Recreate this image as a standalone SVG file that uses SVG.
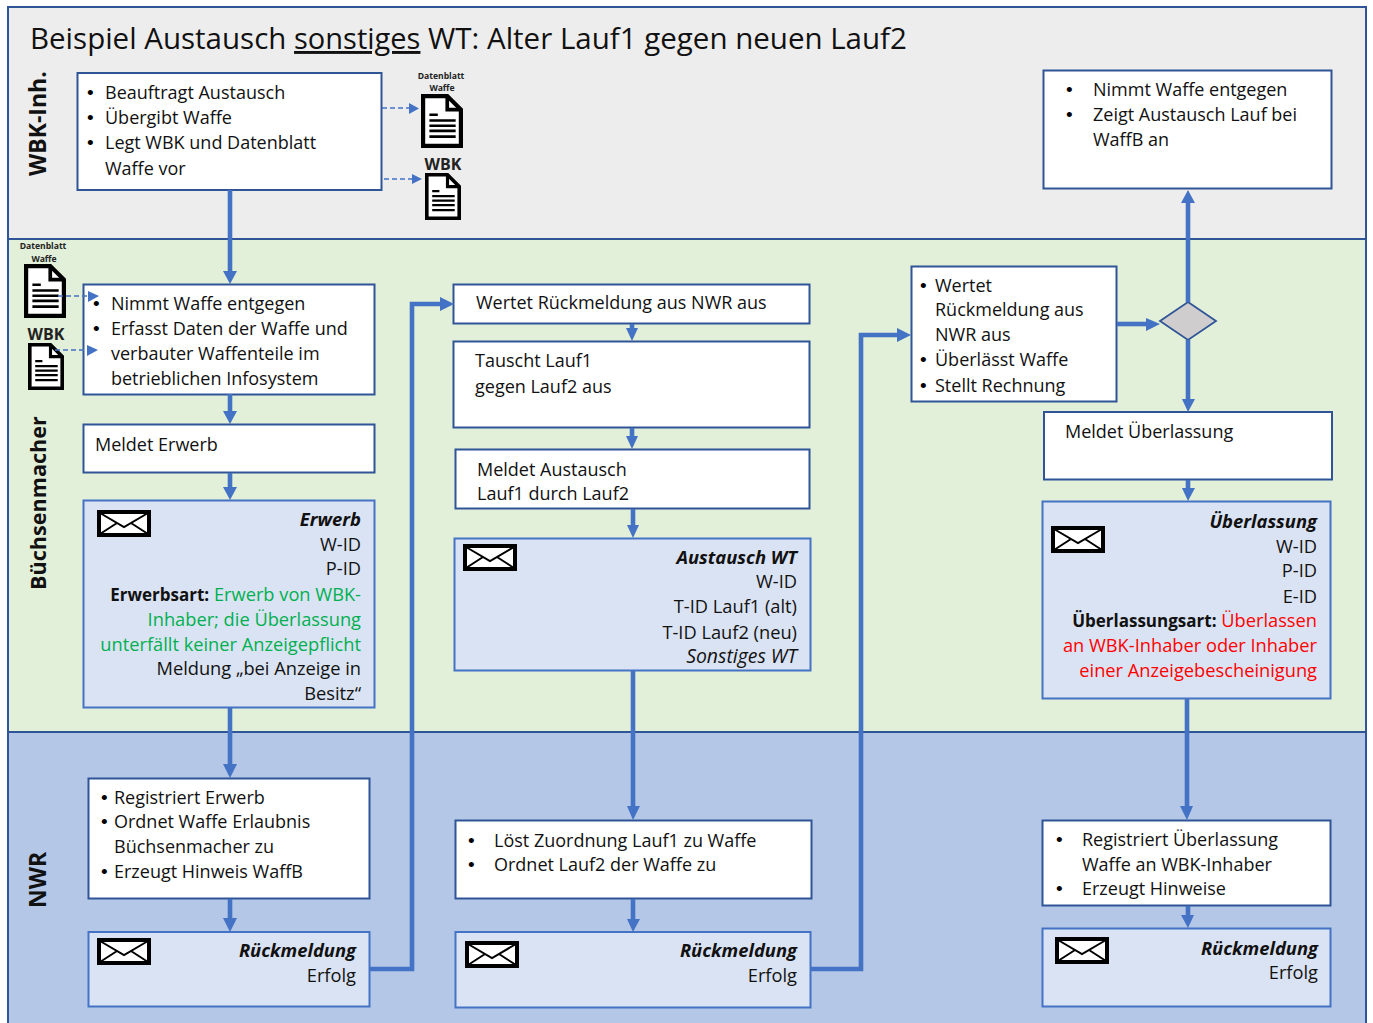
<svg xmlns="http://www.w3.org/2000/svg" xmlns:xlink="http://www.w3.org/1999/xlink" width="1373" height="1023" viewBox="0 0 1373 1023">
<style>
text{font-family:"Open Sans","Noto Sans","Liberation Sans",sans-serif;font-size:18px;fill:#111}
.lane{stroke:#2f5597;stroke-width:2}
.box{fill:#fff;stroke:#2f5597;stroke-width:2}
.msg{fill:#dae3f3;stroke:#4472c4;stroke-width:2}
.r{text-anchor:end;font-size:18.250px}
.b{font-weight:700;font-size:17px}
.i{font-style:italic;font-size:19.400px}
.bi{font-weight:700;font-style:italic;font-size:18.400px}
.g{fill:#00b050}
.red{fill:#ff0000}
.bu{font-family:"Liberation Sans",sans-serif;font-size:19px;fill:#000}
.lab{font-size:22px;font-weight:700;fill:#111}
.small{font-size:8.600px;font-weight:700;text-anchor:middle;fill:#222}
.wbk{font-size:16px;font-weight:700;text-anchor:middle;fill:#222}
.c{fill:none;stroke:#4472c4;stroke-width:4.600}
.d{fill:none;stroke:#4472c4;stroke-width:1.600;stroke-dasharray:5 3}
.ah{fill:#4472c4}
</style>
<defs>
<symbol id="doc" viewBox="0 0 40 52" preserveAspectRatio="none">
<path d="M2 2H25L38 15V50H2Z" fill="#fff" stroke="#000" stroke-width="4"/>
<path d="M25 2V15H38" fill="none" stroke="#000" stroke-width="3.500"/>
<path d="M8 20h8M8 25.500h25M8 30.500h25M8 35.500h25M8 41h25" stroke="#000" stroke-width="2.500" fill="none"/>
</symbol>
<symbol id="env" viewBox="0 0 54 27" preserveAspectRatio="none">
<rect x="2" y="2" width="50" height="23" fill="#fff" stroke="#000" stroke-width="4"/>
<path d="M3 3L27 17L51 3M3 24L20 13M51 24L34 13" fill="none" stroke="#000" stroke-width="2"/>
</symbol>
</defs>
<rect width="1373" height="1023" fill="#fff"/>
<g id="lanes">
<rect class="lane" x="8" y="7" width="1358" height="232" fill="#ededed"/>
<rect class="lane" x="8" y="239" width="1358" height="493" fill="#e2efd9"/>
<rect class="lane" x="8" y="732" width="1358" height="300" fill="#b4c7e7"/>
<text x="30" y="49" style="font-size:29.500px"><tspan>Beispiel Austausch </tspan><tspan text-decoration="underline" style="font-size:29px">sonstiges</tspan><tspan> WT: Alter Lauf1 gegen neuen Lauf2</tspan></text>
<text class="lab" transform="translate(46 176) rotate(-90)" style="font-size:23px">WBK-Inh.</text>
<text class="lab" transform="translate(46 590) rotate(-90)" style="font-size:21.600px">Büchsenmacher</text>
<text class="lab" transform="translate(46 908) rotate(-90)" style="font-size:23px">NWR</text>
</g>
<g id="beauftragt"><rect class="box" x="77.500" y="73" width="304" height="117"/>
<text class="bu" x="87" y="99">•</text><text x="105" y="99">Beauftragt Austausch</text>
<text class="bu" x="87" y="124">•</text><text x="105" y="124">Übergibt Waffe</text>
<text class="bu" x="87" y="149">•</text><text x="105" y="149">Legt WBK und Datenblatt</text>
<text x="105" y="175">Waffe vor</text></g>
<g id="doc-inh-1"><text class="small" x="441" y="79">Datenblatt</text><text class="small" x="442" y="91">Waffe</text><use xlink:href="#doc" href="#doc" x="421" y="94" width="42" height="54"/></g>
<g id="doc-inh-2"><text class="wbk" x="443" y="170">WBK</text><use xlink:href="#doc" href="#doc" x="425" y="173" width="36" height="47"/></g>
<g id="doc-b-1"><text class="small" x="43" y="249">Datenblatt</text><text class="small" x="44" y="262">Waffe</text><use xlink:href="#doc" href="#doc" x="24" y="264" width="42" height="54"/></g>
<g id="doc-b-2"><text class="wbk" x="46" y="340">WBK</text><use xlink:href="#doc" href="#doc" x="28" y="343" width="36" height="47"/></g>
<g id="nimmt-1"><rect class="box" x="83.500" y="284.500" width="291" height="110"/>
<text class="bu" x="93" y="310">•</text><text x="111" y="310">Nimmt Waffe entgegen</text>
<text class="bu" x="93" y="335">•</text><text x="111" y="335">Erfasst Daten der Waffe und</text>
<text x="111" y="360">verbauter Waffenteile im</text>
<text x="111" y="385">betrieblichen Infosystem</text></g>
<g id="meldet-erwerb"><rect class="box" x="83.500" y="424.500" width="291" height="48"/><text x="95" y="451">Meldet Erwerb</text></g>
<g id="erwerb"><rect class="msg" x="83.500" y="500.500" width="291" height="207"/><use xlink:href="#env" href="#env" x="97" y="510" width="54" height="27"/>
<text class="r bi" x="361" y="526">Erwerb</text><text class="r" x="361" y="551">W-ID</text><text class="r" x="361" y="575">P-ID</text>
<text class="r" x="361" y="601"><tspan class="b">Erwerbsart:</tspan> <tspan class="g">Erwerb von WBK-</tspan></text>
<text class="r g" x="361" y="626">Inhaber; die Überlassung</text>
<text class="r g" x="361" y="651">unterfällt keiner Anzeigepflicht</text>
<text class="r" x="361" y="675">Meldung „bei Anzeige in</text><text class="r" x="361" y="700">Besitz“</text></g>
<g id="registriert-erwerb"><rect class="box" x="88.500" y="778.500" width="281" height="120" stroke="#4472c4"/>
<text class="bu" x="101" y="804">•</text><text x="114" y="804">Registriert Erwerb</text>
<text class="bu" x="101" y="828">•</text><text x="114" y="828">Ordnet Waffe Erlaubnis</text>
<text x="114" y="853">Büchsenmacher zu</text>
<text class="bu" x="101" y="878">•</text><text x="114" y="878">Erzeugt Hinweis WaffB</text></g>
<g id="rm-1"><rect class="msg" x="88.500" y="932" width="281" height="74.500"/><use xlink:href="#env" href="#env" x="97" y="938" width="54" height="27"/>
<text class="r bi" x="356" y="957">Rückmeldung</text><text class="r" x="356" y="982">Erfolg</text></g>
<g id="wertet-1"><rect class="box" x="453.500" y="284.500" width="356" height="39"/><text x="476" y="309">Wertet Rückmeldung aus NWR aus</text></g>
<g id="tauscht"><rect class="box" x="453.500" y="341.500" width="356" height="86"/><text x="475" y="367">Tauscht Lauf1</text><text x="475" y="393">gegen Lauf2 aus</text></g>
<g id="meldet-austausch"><rect class="box" x="455.500" y="449.500" width="354" height="59"/><text x="477" y="476">Meldet Austausch</text><text x="477" y="500">Lauf1 durch Lauf2</text></g>
<g id="austausch"><rect class="msg" x="454.500" y="538.500" width="356" height="132"/><use xlink:href="#env" href="#env" x="463" y="544" width="54" height="27"/>
<text class="r bi" x="797" y="564">Austausch WT</text><text class="r" x="797" y="588">W-ID</text><text class="r" x="797" y="613">T-ID Lauf1 (alt)</text><text class="r" x="797" y="639">T-ID Lauf2 (neu)</text><text class="r i" x="797" y="663">Sonstiges WT</text></g>
<g id="loest"><rect class="box" x="455.500" y="820.500" width="356" height="78" stroke="#4472c4"/>
<text class="bu" x="468" y="847">•</text><text x="494" y="847">Löst Zuordnung Lauf1 zu Waffe</text>
<text class="bu" x="468" y="871">•</text><text x="494" y="871">Ordnet Lauf2 der Waffe zu</text></g>
<g id="rm-2"><rect class="msg" x="455.500" y="932" width="355" height="75.500"/><use xlink:href="#env" href="#env" x="465" y="941" width="54" height="27"/>
<text class="r bi" x="797" y="957">Rückmeldung</text><text class="r" x="797" y="982">Erfolg</text></g>
<g id="wertet-2"><rect class="box" x="911.500" y="266.500" width="205" height="135"/>
<text class="bu" x="920" y="292">•</text><text x="935" y="292">Wertet</text><text x="935" y="316">Rückmeldung aus</text><text x="935" y="341">NWR aus</text>
<text class="bu" x="920" y="366">•</text><text x="935" y="366">Überlässt Waffe</text>
<text class="bu" x="920" y="392">•</text><text x="935" y="392">Stellt Rechnung</text></g>
<g id="entscheidung"><path d="M1188 302L1216 321L1188 340L1160 321Z" fill="#cfcdcd" stroke="#2f5597" stroke-width="1.800"/></g>
<g id="nimmt-2"><rect class="box" x="1043.500" y="70.500" width="288" height="118"/>
<text class="bu" x="1066" y="96">•</text><text x="1093" y="96">Nimmt Waffe entgegen</text>
<text class="bu" x="1066" y="121">•</text><text x="1093" y="121">Zeigt Austausch Lauf bei</text>
<text x="1093" y="146">WaffB an</text></g>
<g id="meldet-ueberlassung"><rect class="box" x="1044" y="412" width="288" height="67.500"/><text x="1065" y="438">Meldet Überlassung</text></g>
<g id="ueberlassung"><rect class="msg" x="1042.500" y="501.500" width="288" height="197"/><use xlink:href="#env" href="#env" x="1051" y="526" width="54" height="27"/>
<text class="r bi" x="1317" y="528">Überlassung</text><text class="r" x="1317" y="553">W-ID</text><text class="r" x="1317" y="577">P-ID</text><text class="r" x="1317" y="603">E-ID</text>
<text class="r" x="1317" y="627"><tspan class="b">Überlassungsart:</tspan> <tspan class="red">Überlassen</tspan></text>
<text class="r red" x="1317" y="652">an WBK-Inhaber oder Inhaber</text><text class="r red" x="1317" y="677">einer Anzeigebescheinigung</text></g>
<g id="registriert-ueberlassung"><rect class="box" x="1042.500" y="820.500" width="288" height="85" stroke="#4472c4"/>
<text class="bu" x="1056" y="846">•</text><text x="1082" y="846">Registriert Überlassung</text>
<text x="1082" y="871">Waffe an WBK-Inhaber</text>
<text class="bu" x="1056" y="895">•</text><text x="1082" y="895">Erzeugt Hinweise</text></g>
<g id="rm-3"><rect class="msg" x="1042.500" y="928.500" width="288" height="78"/><use xlink:href="#env" href="#env" x="1055" y="937" width="54" height="27"/>
<text class="r bi" x="1318" y="955">Rückmeldung</text><text class="r" x="1318" y="979">Erfolg</text></g>
<g id="connectors">
<path class="c" d="M230 190V272"/><path class="ah" d="M223 271H237L230 284Z"/>
<path class="c" d="M230 394V413"/><path class="ah" d="M223 411H237L230 424Z"/>
<path class="c" d="M230 473V489"/><path class="ah" d="M223 487H237L230 500Z"/>
<path class="c" d="M230 708V766"/><path class="ah" d="M223 764H237L230 778Z"/>
<path class="c" d="M230 899V919"/><path class="ah" d="M223 918H237L230 932Z"/>
<path class="c" d="M370 969H412V304H441"/><path class="ah" d="M440 297L454 304L440 311Z"/>
<path class="c" d="M632 324V331"/><path class="ah" d="M626 328H638L632 341Z"/>
<path class="c" d="M632 428V439"/><path class="ah" d="M626 436H638L632 449Z"/>
<path class="c" d="M633 509V527"/><path class="ah" d="M627 525H639L633 538Z"/>
<path class="c" d="M633 671V808"/><path class="ah" d="M627 806H640L633 820Z"/>
<path class="c" d="M633 899V921"/><path class="ah" d="M627 919H640L633 932Z"/>
<path class="c" d="M811 969H861V335H899"/><path class="ah" d="M897 328L911 335L897 342Z"/>
<path class="c" d="M1117 324H1148"/><path class="ah" d="M1146 318L1160 324L1146 331Z"/>
<path class="c" d="M1188 302V200"/><path class="ah" d="M1181 203H1195L1188 190Z"/>
<path class="c" d="M1188 340V399"/><path class="ah" d="M1182 399H1195L1188 412Z"/>
<path class="c" d="M1188 480V491"/><path class="ah" d="M1182 488H1195L1188 501Z"/>
<path class="c" d="M1187 699V808"/><path class="ah" d="M1180 806H1193L1187 820Z"/>
<path class="c" d="M1188 906V918"/><path class="ah" d="M1181 915H1194L1188 928Z"/>
<path class="d" d="M382 108H410"/><path class="ah" d="M409 103L419 108.500L409 114Z"/>
<path class="d" d="M384 179H413"/><path class="ah" d="M412 174L422 179L412 184Z"/>
<path class="d" d="M58 296H90"/><path class="ah" d="M88 291L99 296L88 302Z"/>
<path class="d" d="M55 350H88"/><path class="ah" d="M87 345L98 350L87 356Z"/>
</g>
</svg>
